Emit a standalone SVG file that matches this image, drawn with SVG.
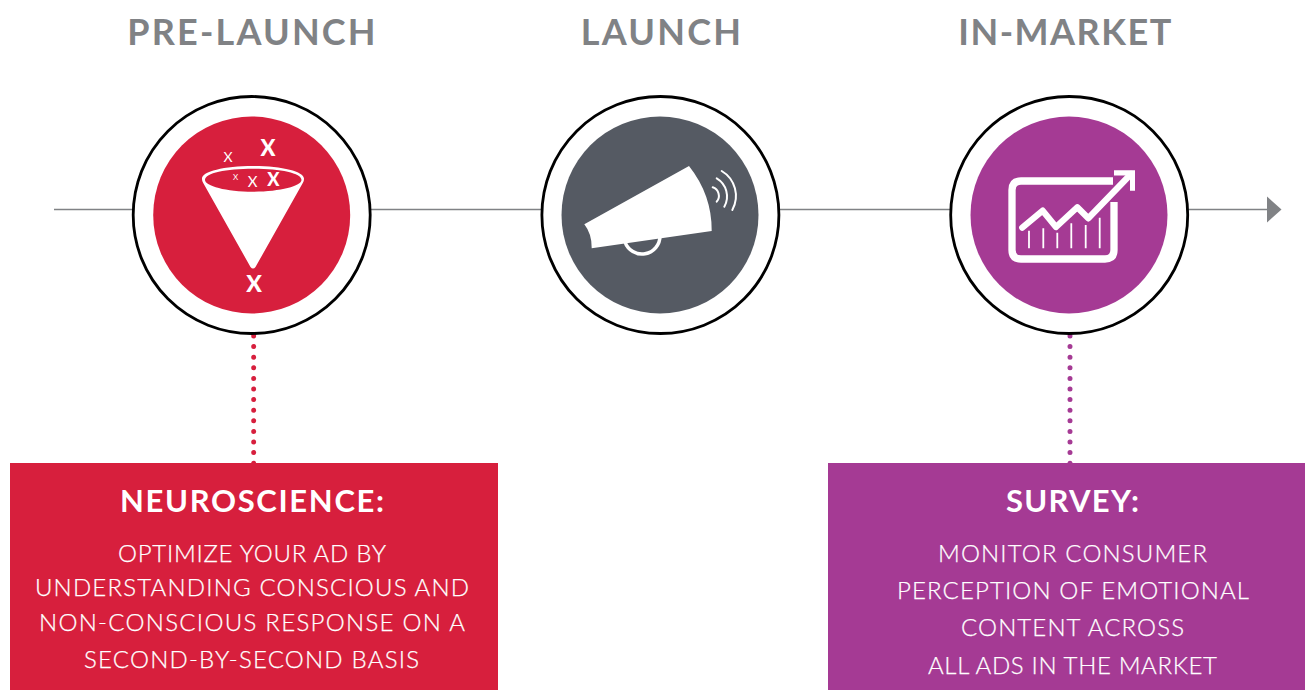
<svg xmlns="http://www.w3.org/2000/svg" width="1305" height="690" viewBox="0 0 1305 690">
<style>
text{font-family:"Lato","Liberation Sans",sans-serif;text-anchor:middle}
.h{font-size:36px;font-weight:700;fill:#808285;letter-spacing:2.2px}
.t{font-size:31px;font-weight:700;fill:#fff}
.b{font-size:24px;font-weight:300;fill:#fff;stroke:#fff;stroke-width:.25}
.ring{fill:#fff;stroke:#000;stroke-width:2.800}
.w{fill:#fff}
.x{fill:#fff;font-weight:900}
.xl{fill:#fff;font-weight:400}
.ln{stroke:#fff;fill:none;stroke-linecap:round}
.dots{stroke-width:5;stroke-linecap:round;stroke-dasharray:0 10.600}
</style>
<rect width="1305" height="690" fill="#fff"/>
<g id="connectors">
<line x1="54" y1="209.400" x2="1268" y2="209.400" stroke="#808285" stroke-width="1.500"/>
<polygon points="1267,196.500 1281.500,209.400 1267,222.500" fill="#808285"/>
<line class="dots" x1="253.700" y1="336" x2="253.700" y2="464" stroke="#d71f3d"/>
<line class="dots" x1="1070" y1="336" x2="1070" y2="464" stroke="#a53a94"/>
</g>
<g id="pre-launch">
<text class="h" x="252.500" y="45">PRE-LAUNCH</text>
<circle class="ring" cx="251.700" cy="215" r="118.500"/>
<circle cx="251.700" cy="215" r="98.500" fill="#d71f3d"/>
<path class="w" fill-rule="evenodd" d="M202 178.500C202 171.500 224 166 253 166C282 166 304 171.500 304 178.500C304 180.500 303.500 182 302.500 183.500L255.500 267Q253 270 250.500 267L203.500 183.500C202.500 182 202 180.500 202 178.500ZM205 180C205 186 226 191.700 253 191.700C280 191.700 301.500 186 301.500 180C301.500 173 280 168.800 253 168.800C226 168.800 205 173 205 180Z"/>
<text class="x" x="268" y="155.500" font-size="22">X</text>
<text class="xl" x="228" y="161.700" font-size="14">X</text>
<text class="x" x="273.300" y="186" font-size="18">X</text>
<text class="xl" x="252.500" y="187.300" font-size="15">X</text>
<text class="xl" x="235.500" y="180.300" font-size="8">X</text>
<text class="x" x="254" y="291.700" font-size="23">X</text>
</g>
<g id="launch">
<text class="h" x="662" y="45">LAUNCH</text>
<circle class="ring" cx="660.400" cy="215" r="118.500"/>
<circle cx="660" cy="215" r="98.500" fill="#555a63"/>
<path d="M625 242A18 18 0 0 0 660 236" fill="none" stroke="#fff" stroke-width="3.500"/>
<path class="w" d="M584.300 224.300L689 166Q712 195 711.700 231L591.700 248.300Q592 234 584.300 224.300Z"/>
<g class="ln" stroke-width="2">
<path d="M712.700 187.300A9 9 0 0 1 716.700 201.700"/>
<path d="M716.700 178.300A21 21 0 0 1 724.300 206.700"/>
<path d="M721.700 171A29 29 0 0 1 732.300 210"/>
</g>
</g>
<g id="in-market">
<text class="h" x="1065.500" y="45" style="letter-spacing:1.5px">IN-MARKET</text>
<circle class="ring" cx="1069.200" cy="215" r="118.500"/>
<circle cx="1069" cy="215" r="98.500" fill="#a53a94"/>
<path d="M1113 181H1021Q1012 181 1012 190V250Q1012 259 1021 259H1105Q1114 259 1114 250V202" fill="none" stroke="#fff" stroke-width="7.300"/>
<polyline points="1022.300,227.700 1042.700,210.700 1056,227 1077.300,207.300 1088.300,218.300 1131,174" fill="none" stroke="#fff" stroke-width="6.300" stroke-linecap="round" stroke-linejoin="round"/>
<path class="w" d="M1114,170.300H1135V190.700H1130V175.500H1114Z"/>
<g class="ln" stroke-width="1.800">
<path d="M1029 230.700V248.300M1043.300 228.300V248.300M1057.300 232.700V248.300M1071.300 223.300V248.300M1085.700 225V248.300M1099.700 217.700V248.300" stroke-linecap="butt"/>
</g>
</g>
<g id="neuroscience">
<rect x="10" y="463" width="488" height="227" fill="#d71f3d"/>
<text class="t" x="252" y="512" textLength="264">NEUROSCIENCE:</text>
<text class="b" x="252" y="562.300" textLength="268">OPTIMIZE YOUR AD BY</text>
<text class="b" x="252" y="595.700" textLength="434">UNDERSTANDING CONSCIOUS AND</text>
<text class="b" x="252" y="631" textLength="426">NON-CONSCIOUS RESPONSE ON A</text>
<text class="b" x="251.500" y="667.700" textLength="335">SECOND-BY-SECOND BASIS</text>
</g>
<g id="survey">
<rect x="828" y="463" width="477" height="227" fill="#a53a94"/>
<text class="t" x="1072.500" y="512" textLength="133">SURVEY:</text>
<text class="b" x="1072.500" y="562" textLength="269">MONITOR CONSUMER</text>
<text class="b" x="1073" y="599" textLength="352">PERCEPTION OF EMOTIONAL</text>
<text class="b" x="1072.500" y="636" textLength="223">CONTENT ACROSS</text>
<text class="b" x="1072.500" y="674" textLength="289">ALL ADS IN THE MARKET</text>
</g>
</svg>
